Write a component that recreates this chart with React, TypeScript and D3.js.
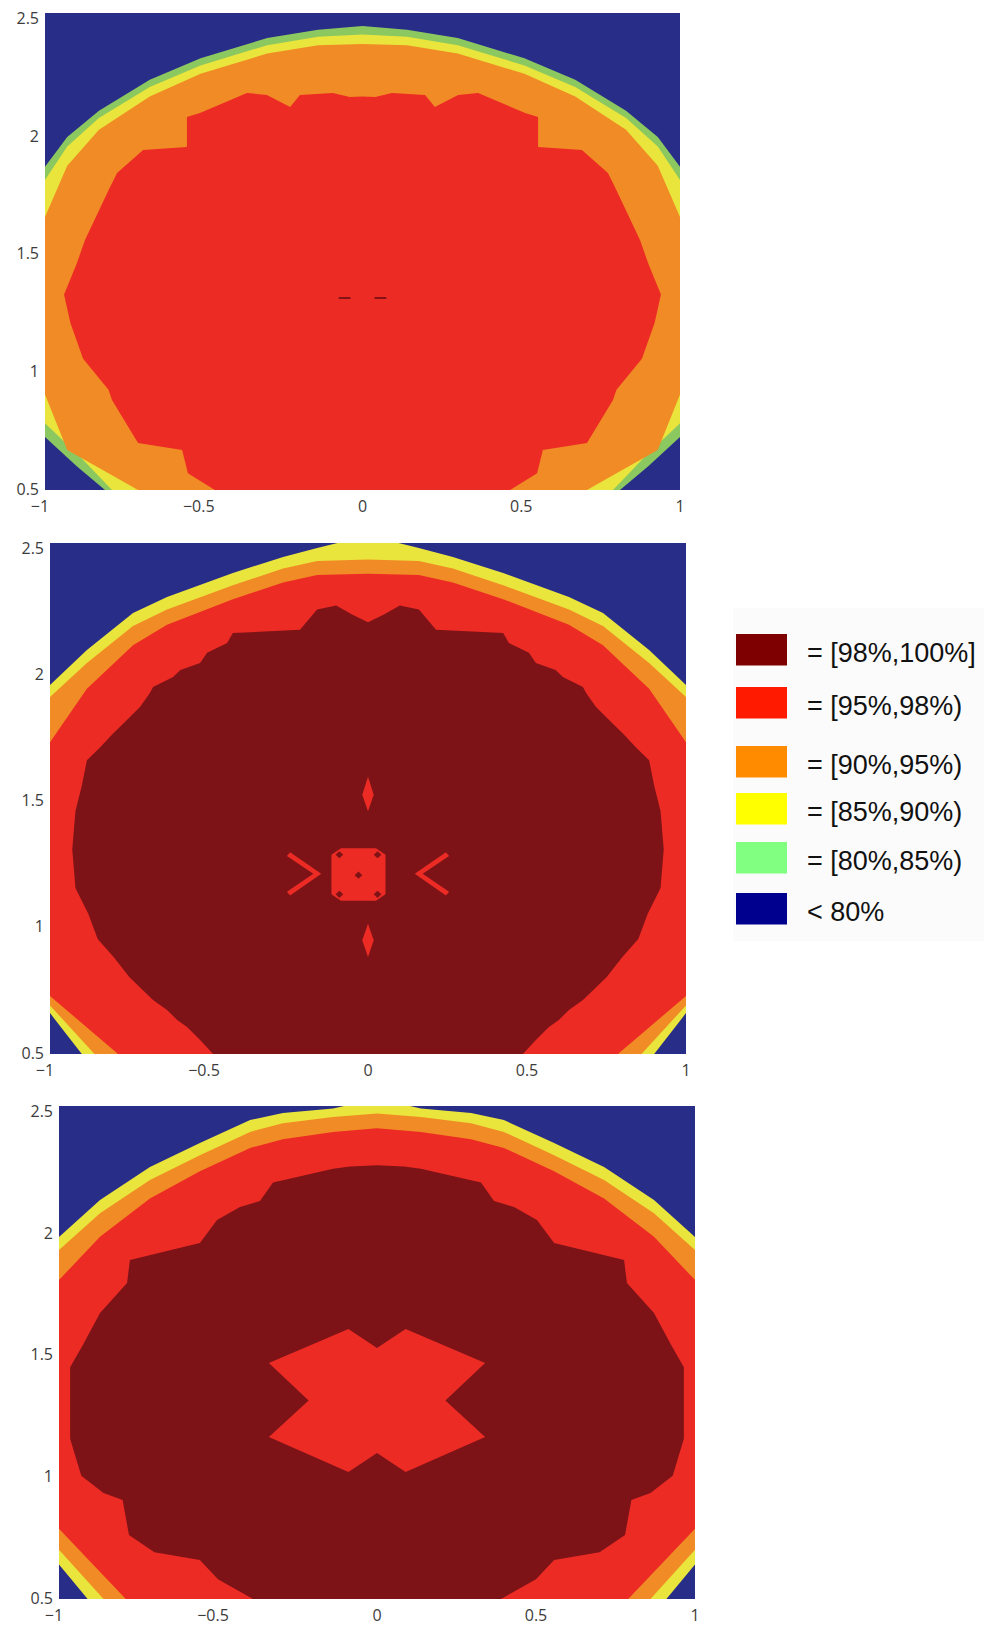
import React from "react";
import * as d3 from "d3";

type Pt = [number, number];

// Accuracy classes, best first
const CLASS_LABELS = ["= [98%,100%]", "= [95%,98%)", "= [90%,95%)", "= [85%,90%)", "= [80%,85%)", "< 80%"];
const LEGEND_COLORS = ["#7f0000", "#ff1a00", "#ff8c00", "#ffff00", "#80ff80", "#00008f"];
const MAP_COLORS = ["#7e1317", "#ec2b25", "#f18b25", "#e9e53c", "#8cc860", "#282d88"];

const X_TICKS = [-1, -0.5, 0, 0.5, 1];
const Y_TICKS = [0.5, 1, 1.5, 2, 2.5];

// Class boundaries, right half (x >= 0), traced from the top of the axis x = 0
// clockwise down to the bottom; the left half is the mirror image.
// ---- map 1 ----
const m1Over80: Pt[] = [[0, 2.445], [0.14, 2.43], [0.3, 2.395], [0.51, 2.31], [0.67, 2.22], [0.83, 2.09], [0.93, 1.98], [1.0, 1.855], [1.08, 1.3], [1.0, 0.722], [0.9, 0.6], [0.811, 0.5], [0.7, 0.3], [0, 0.3]];
const m1Over85: Pt[] = [[0, 2.41], [0.14, 2.4], [0.3, 2.365], [0.51, 2.28], [0.67, 2.19], [0.83, 2.06], [0.93, 1.94], [1.0, 1.8], [1.08, 1.3], [1.0, 0.78], [0.89, 0.64], [0.789, 0.5], [0.7, 0.3], [0, 0.3]];
const m1Over90: Pt[] = [[0, 2.37], [0.14, 2.365], [0.3, 2.33], [0.51, 2.245], [0.67, 2.15], [0.83, 2.01], [0.93, 1.86], [1.0, 1.645], [1.05, 1.3], [1.0, 0.9], [0.93, 0.668], [0.8, 0.57], [0.707, 0.5], [0.6, 0.3], [0, 0.3]];
const m1Over95: Pt[] = [[0, 2.15], [0.04, 2.148], [0.093, 2.165], [0.197, 2.156], [0.228, 2.106], [0.301, 2.156], [0.364, 2.165], [0.512, 2.081], [0.553, 2.064], [0.553, 1.938], [0.691, 1.926], [0.773, 1.829], [0.795, 1.77], [0.874, 1.548], [0.9, 1.45], [0.94, 1.32], [0.92, 1.2], [0.88, 1.05], [0.8, 0.92], [0.789, 0.877], [0.707, 0.697], [0.568, 0.668], [0.55, 0.57], [0.465, 0.5], [0.4, 0.3], [0, 0.3]];
const m1Over98: Pt[] = [[0.038, 1.309], [0.075, 1.309], [0.075, 1.301], [0.038, 1.301]];

// ---- map 2 ----
const m2Over85: Pt[] = [[0, 2.53], [0.16, 2.48], [0.267, 2.445], [0.425, 2.383], [0.632, 2.289], [0.739, 2.226], [0.884, 2.081], [1.0, 1.944], [1.08, 1.3], [1.0, 0.66], [0.9, 0.5], [0.8, 0.3], [0, 0.3]];
const m2Over90: Pt[] = [[0, 2.435], [0.16, 2.43], [0.267, 2.4], [0.425, 2.335], [0.632, 2.24], [0.739, 2.175], [0.884, 2.03], [1.0, 1.897], [1.06, 1.3], [1.0, 0.69], [0.86, 0.5], [0.75, 0.3], [0, 0.3]];
const m2Over95: Pt[] = [[0, 2.38], [0.16, 2.375], [0.267, 2.345], [0.425, 2.28], [0.632, 2.18], [0.739, 2.1], [0.884, 1.93], [1.0, 1.72], [1.05, 1.3], [1.0, 0.727], [0.786, 0.5], [0.7, 0.3], [0, 0.3]];
const m2Over98: Pt[] = [[0, 2.19], [0.05, 2.22], [0.1, 2.255], [0.16, 2.24], [0.214, 2.16], [0.425, 2.148], [0.443, 2.109], [0.506, 2.07], [0.528, 2.03], [0.59, 2.003], [0.613, 1.976], [0.676, 1.936], [0.686, 1.913], [0.717, 1.858], [0.758, 1.807], [0.8, 1.756], [0.843, 1.7], [0.884, 1.65], [0.9, 1.55], [0.92, 1.45], [0.93, 1.3], [0.92, 1.15], [0.88, 1.05], [0.85, 0.95], [0.8, 0.88], [0.75, 0.8], [0.676, 0.711], [0.632, 0.672], [0.6, 0.633], [0.569, 0.606], [0.528, 0.555], [0.487, 0.5], [0.4, 0.3], [0, 0.3]];
// islands of the 95% class inside the 98% area (full outlines)
const m2Core: Pt[] = [[-0.085, 1.305], [0.025, 1.305], [0.055, 1.28], [0.055, 1.125], [0.025, 1.1], [-0.085, 1.1], [-0.115, 1.125], [-0.115, 1.28]];
const m2Chevron: Pt[] = [[0.245, 1.29], [0.147, 1.205], [0.245, 1.12], [0.255, 1.135], [0.172, 1.205], [0.255, 1.275]];
const m2DropTop: Pt[] = [[0, 1.585], [0.018, 1.515], [0, 1.45]];
const m2DropBottom: Pt[] = [[0, 1.01], [0.018, 0.945], [0, 0.88]];
// small pockets of the 98% class left inside the core
const m2CorePockets: Pt[] = [[-0.09, 1.28], [0.03, 1.28], [-0.09, 1.125], [0.03, 1.125], [-0.03, 1.2]];

// ---- map 3 ----
const m3Over85: Pt[] = [[0, 2.53], [0.138, 2.49], [0.296, 2.472], [0.399, 2.443], [0.557, 2.35], [0.714, 2.253], [0.871, 2.119], [1.0, 1.969], [1.08, 1.3], [1.0, 0.64], [0.91, 0.5], [0.8, 0.3], [0, 0.3]];
const m3Over90: Pt[] = [[0, 2.47], [0.138, 2.455], [0.296, 2.43], [0.399, 2.395], [0.557, 2.3], [0.714, 2.2], [0.871, 2.065], [1.0, 1.916], [1.06, 1.3], [1.0, 0.7], [0.86, 0.5], [0.75, 0.3], [0, 0.3]];
const m3Over95: Pt[] = [[0, 2.41], [0.138, 2.395], [0.296, 2.365], [0.399, 2.33], [0.557, 2.235], [0.714, 2.125], [0.871, 1.97], [1.0, 1.794], [1.05, 1.3], [1.0, 0.785], [0.79, 0.5], [0.7, 0.3], [0, 0.3]];
const m3Over98: Pt[] = [[0, 2.26], [0.085, 2.255], [0.138, 2.245], [0.327, 2.19], [0.368, 2.115], [0.431, 2.09], [0.503, 2.038], [0.557, 1.944], [0.777, 1.875], [0.786, 1.782], [0.871, 1.66], [0.925, 1.53], [0.965, 1.44], [0.965, 1.15], [0.93, 1.0], [0.86, 0.93], [0.8, 0.902], [0.78, 0.76], [0.7, 0.69], [0.557, 0.658], [0.5, 0.58], [0.39, 0.5], [0.3, 0.3], [0, 0.3]];
const m3Cross: Pt[] = [[0, 1.518], [0.09, 1.595], [0.34, 1.457], [0.215, 1.305], [0.34, 1.157], [0.09, 1.015], [0, 1.092]];

function mirror(half: Pt[]): Pt[] {
  const left = half.slice().reverse().map(([x, y]) => [-x, y] as Pt);
  return half.concat(left);
}
function flipX(pts: Pt[]): Pt[] {
  return pts.map(([x, y]) => [-x, y] as Pt);
}
// small rhombus around a point, size in axis units
function speck([cx, cy]: Pt, rx: number, ry: number): Pt[] {
  return [[cx, cy + ry], [cx + rx, cy], [cx, cy - ry], [cx - rx, cy]];
}

type Region = { cls: number; pts: Pt[] };

const MAPS: { key: string; regions: Region[] }[] = [
  {
    key: "m1",
    regions: [
      { cls: 4, pts: mirror(m1Over80) },
      { cls: 3, pts: mirror(m1Over85) },
      { cls: 2, pts: mirror(m1Over90) },
      { cls: 1, pts: mirror(m1Over95) },
      { cls: 0, pts: m1Over98 },
      { cls: 0, pts: flipX(m1Over98) },
    ],
  },
  {
    key: "m2",
    regions: [
      { cls: 3, pts: mirror(m2Over85) },
      { cls: 2, pts: mirror(m2Over90) },
      { cls: 1, pts: mirror(m2Over95) },
      { cls: 0, pts: mirror(m2Over98) },
      { cls: 1, pts: m2Core },
      { cls: 1, pts: m2Chevron },
      { cls: 1, pts: flipX(m2Chevron) },
      { cls: 1, pts: mirror(m2DropTop) },
      { cls: 1, pts: mirror(m2DropBottom) },
      ...m2CorePockets.map((p) => ({ cls: 0, pts: speck(p, 0.012, 0.014) })),
    ],
  },
  {
    key: "m3",
    regions: [
      { cls: 3, pts: mirror(m3Over85) },
      { cls: 2, pts: mirror(m3Over90) },
      { cls: 1, pts: mirror(m3Over95) },
      { cls: 0, pts: mirror(m3Over98) },
      { cls: 1, pts: mirror(m3Cross) },
    ],
  },
];

const BOXES = [
  { left: 45, top: 13, width: 635, height: 477 },
  { left: 50, top: 543, width: 636, height: 511 },
  { left: 59, top: 1106, width: 636, height: 493 },
];

// vertical positions of the legend rows
const LEGEND_ROWS = [634, 687, 746, 793, 842, 893];

const TICK_FONT = "'Open Sans', 'DejaVu Sans', sans-serif";
const fmt = (v: number) => (v < 0 ? "\u2212" + Math.abs(v) : String(v));

function HeatMap({ id, box, regions }: { id: string; box: typeof BOXES[number]; regions: Region[] }) {
  const x = d3.scaleLinear().domain([-1, 1]).range([box.left, box.left + box.width]);
  const y = d3.scaleLinear().domain([0.5, 2.5]).range([box.top + box.height, box.top]);
  // tick labels sit slightly inside the end ticks
  const yLabel = d3.scaleLinear().domain([0.5, 2.5]).range([box.top + box.height - 1.5, box.top + 5]);
  const path = d3
    .line<Pt>()
    .x((d) => x(d[0]))
    .y((d) => y(d[1]))
    .curve(d3.curveLinearClosed);
  return (
    <g>
      <defs>
        <clipPath id={`clip-${id}`}>
          <rect x={box.left} y={box.top} width={box.width} height={box.height} />
        </clipPath>
      </defs>
      <g clipPath={`url(#clip-${id})`}>
        <rect x={box.left} y={box.top} width={box.width} height={box.height} fill={MAP_COLORS[5]} />
        {regions.map((r, i) => (
          <path key={i} d={path(r.pts) || ""} fill={MAP_COLORS[r.cls]} />
        ))}
      </g>
      {Y_TICKS.map((t) => (
        <text
          key={"y" + t}
          x={box.left - 6}
          y={yLabel(t)}
          textAnchor="end"
          dominantBaseline="central"
          fontFamily={TICK_FONT}
          fontSize={16}
          fill="#3c3c3c"
        >
          {fmt(t)}
        </text>
      ))}
      {X_TICKS.map((t) => (
        <text
          key={"x" + t}
          x={x(t) - (t < 0 ? 5 : 0)}
          y={box.top + box.height + 16}
          textAnchor="middle"
          dominantBaseline="central"
          fontFamily={TICK_FONT}
          fontSize={16}
          fill="#3c3c3c"
        >
          {fmt(t)}
        </text>
      ))}
    </g>
  );
}

export default function App() {
  return (
    <svg
      width={984}
      height={1627}
      viewBox="0 0 984 1627"
      style={{ position: "absolute", left: 0, top: 0, background: "#fff" }}
    >
      <rect x={0} y={0} width={984} height={1627} fill="#fff" />
      {MAPS.map((m, i) => (
        <HeatMap key={m.key} id={m.key} box={BOXES[i]} regions={m.regions} />
      ))}
      <rect x={733} y={608} width={251} height={333} fill="#fbfbfb" />
      {CLASS_LABELS.map((label, i) => (
        <g key={label}>
          <rect x={736} y={LEGEND_ROWS[i]} width={51} height={31.5} fill={LEGEND_COLORS[i]} />
          <text
            x={807}
            y={LEGEND_ROWS[i] + 19}
            dominantBaseline="central"
            fontFamily="'Liberation Sans', Arial, sans-serif"
            fontSize={27}
            fill="#111"
          >
            {label}
          </text>
        </g>
      ))}
    </svg>
  );
}
